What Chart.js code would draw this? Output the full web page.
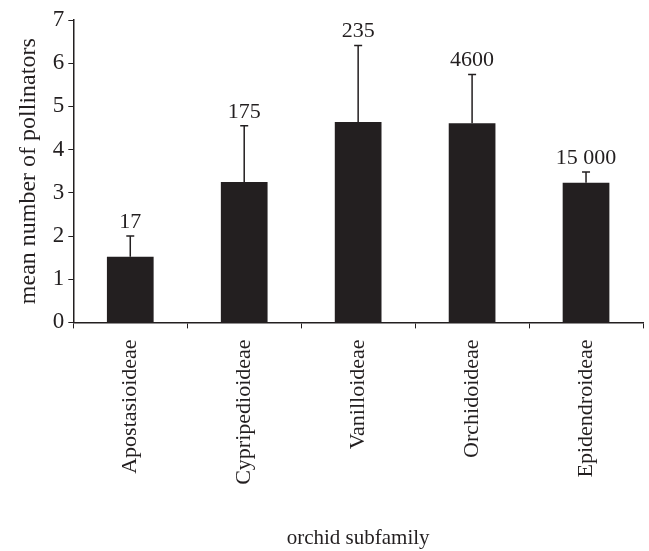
<!DOCTYPE html>
<html>
<head>
<meta charset="utf-8">
<script src="https://cdn.jsdelivr.net/npm/chart.js@4/dist/chart.umd.min.js"></script>
<style>
  html, body { margin: 0; padding: 0; background: #fff; }
  #wrap { width: 649px; height: 551px; }
</style>
</head>
<body>
<div id="wrap"><canvas id="myChart"></canvas></div>
<script>
var subfamilies = ['Apostasioideae', 'Cypripedioideae', 'Vanilloideae', 'Orchidoideae', 'Epidendroideae'];
var meanPollinators = [1.52, 3.25, 4.64, 4.61, 3.23];
var errorUpper = [0.48, 1.30, 1.77, 1.13, 0.25];
var speciesCounts = ['17', '175', '235', '4600', '15 000'];
var yTicks = [0, 1, 2, 3, 4, 5, 6, 7];

var ink = '#231f20';
var serif = '"Liberation Serif", "DejaVu Serif", serif';

// error bars (upward only) and species counts above them
var errorBars = {
    id: 'errorBars',
    afterDatasetsDraw: function(chart) {
        var ctx = chart.ctx;
        var meta = chart.getDatasetMeta(0);
        var y = chart.scales.y;
        ctx.save();
        ctx.strokeStyle = ink;
        ctx.fillStyle = ink;
        ctx.lineWidth = 1.5;
        ctx.font = '22px ' + serif;
        ctx.textAlign = 'center';
        ctx.textBaseline = 'bottom';
        meta.data.forEach(function(bar, i) {
            var top = y.getPixelForValue(meanPollinators[i] + errorUpper[i]);
            var base = y.getPixelForValue(meanPollinators[i]);
            ctx.beginPath();
            ctx.moveTo(bar.x, base);
            ctx.lineTo(bar.x, top);
            ctx.moveTo(bar.x - 4, top);
            ctx.lineTo(bar.x + 4, top);
            ctx.stroke();
            ctx.fillText(speciesCounts[i], bar.x, top - 3);
        });
        ctx.restore();
    }
};

var ctx = document.getElementById('myChart').getContext('2d');
var chart = new Chart(ctx, {
    type: 'bar',
    data: {
        labels: subfamilies,
        datasets: [{
            data: meanPollinators,
            backgroundColor: ink,
            borderWidth: 0,
            barPercentage: 0.41,
            categoryPercentage: 1
        }]
    },
    options: {
        responsive: true,
        maintainAspectRatio: false,
        animation: false,
        layout: {
            padding: { top: 20, right: 6, left: 14, bottom: 0 }
        },
        plugins: {
            legend: { display: false },
            tooltip: { enabled: false }
        },
        scales: {
            x: {
                grid: {
                    offset: true,
                    drawOnChartArea: false,
                    drawTicks: true,
                    tickLength: 6,
                    color: ink,
                    lineWidth: 1
                },
                border: { color: ink, width: 1.5 },
                ticks: {
                    color: ink,
                    font: { family: serif, size: 22 },
                    minRotation: 90,
                    maxRotation: 90,
                    padding: 11
                },
                title: {
                    display: true,
                    text: 'orchid subfamily',
                    color: ink,
                    font: { family: serif, size: 21 },
                    padding: { top: 30, bottom: 0 }
                }
            },
            y: {
                min: 0,
                max: 7,
                afterBuildTicks: function(scale) {
                    scale.ticks = yTicks.map(function(v) { return { value: v }; });
                },
                grid: {
                    drawOnChartArea: false,
                    drawTicks: true,
                    tickLength: 5,
                    color: ink
                },
                border: { color: ink, width: 1.5 },
                ticks: {
                    color: ink,
                    font: { family: serif, size: 23 },
                    padding: 4
                },
                title: {
                    display: true,
                    text: 'mean number of pollinators',
                    color: ink,
                    font: { family: serif, size: 24 },
                    padding: { top: 0, bottom: 6 }
                }
            }
        }
    },
    plugins: [errorBars]
});
</script>
</body>
</html>
